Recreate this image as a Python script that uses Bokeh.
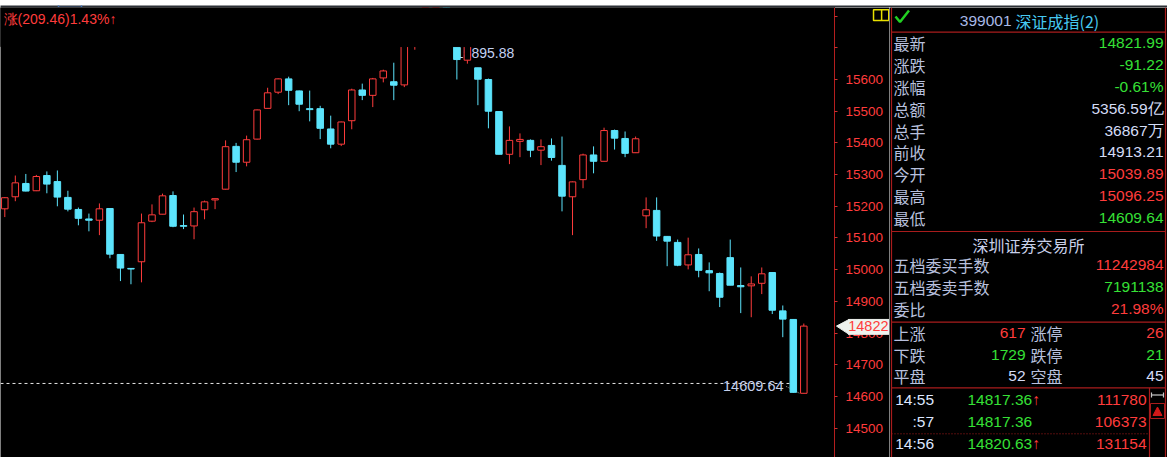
from bokeh.plotting import figure
from bokeh.layouts import column, row
from bokeh.models import Range1d, FixedTicker, ColumnDataSource
from bokeh.core.properties import value
from bokeh.embed import file_html
from bokeh.resources import INLINE

# ---------------- data ----------------
opens = [15192, 15230, 15272, 15249, 15297, 15278, 15228, 15190, 15160, 15156,
         15193, 15048, 15004, 15025, 15153, 15175, 15234, 15139, 15138, 15189,
         15220, 15254, 15389, 15339, 15412, 15509, 15560, 15602, 15564, 15508,
         15508, 15444, 15396, 15470, 15567, 15550, 15605, 15593, 15583, 15740,
         15790, 15850, 15870, 15760, 15661, 15637, 15600, 15499, 15364, 15405,
         15408, 15377, 15392, 15329, 15230, 15284, 15362, 15342, 15439, 15414,
         15369, 15170, 15187, 15105, 15086, 15015, 15048, 14997, 14988, 15038,
         14950, 14949, 14957, 14991, 14870, 14843, 14610]
highs = [15229, 15297, 15302, 15299, 15310, 15313, 15249, 15196, 15177, 15209,
         15194, 15048, 15004, 15177, 15206, 15240, 15247, 15174, 15196, 15218,
         15224, 15408, 15400, 15423, 15505, 15574, 15603, 15609, 15565, 15565,
         15517, 15486, 15467, 15571, 15587, 15605, 15631, 15653, 15745, 15800,
         15870, 15895.88, 15885, 15780, 15740, 15637, 15603, 15499, 15452, 15430,
         15411, 15411, 15414, 15420, 15278, 15366, 15389, 15448, 15442, 15436,
         15420, 15228, 15228, 15105, 15095, 15101, 15067, 15023, 14991, 15095,
         15007, 14979, 15007, 14992, 14887, 14843, 14830]
lows = [15166, 15216, 15247, 15248, 15241, 15200, 15184, 15140, 15121, 15109,
        15036, 14964, 14954, 14960, 15150, 15175, 15134, 15128, 15096, 15159,
        15191, 15253, 15308, 15326, 15411, 15509, 15554, 15519, 15500, 15468,
        15412, 15383, 15390, 15443, 15535, 15513, 15591, 15535, 15576, 15694,
        15770, 15820, 15760, 15600, 15650, 15519, 15446, 15364, 15333, 15355,
        15355, 15330, 15344, 15184, 15109, 15257, 15304, 15342, 15379, 15355,
        15368, 15131, 15091, 15011, 15011, 15001, 14976, 14932, 14882, 14951,
        14863, 14850, 14923, 14860, 14787, 14612, 14609.64]
closes = [15227, 15274, 15248, 15294, 15270, 15229, 15191, 15162, 15156, 15192,
          15049, 15005, 15002, 15148, 15173, 15233, 15137, 15137, 15183, 15214,
          15224, 15388, 15339, 15410, 15504, 15558, 15602, 15566, 15522, 15505,
          15446, 15396, 15466, 15567, 15550, 15602, 15627, 15582, 15730, 15790,
          15850, 15880, 15800, 15663, 15720, 15601, 15500, 15364, 15408, 15411,
          15377, 15388, 15354, 15232, 15277, 15362, 15342, 15439, 15415, 15367,
          15413, 15189, 15106, 15090, 15014, 15047, 14998, 14990, 14913, 14951,
          14946, 14955, 14987, 14872, 14844, 14613, 14821.99]

axis_ticks = [14500, 14600, 14700, 14800, 14900, 15000, 15100, 15200,
              15300, 15400, 15500, 15600, 15700, 15800]
title_text = "涨(209.46)1.43%↑"
period_high_text = "15895.88"
period_low_text = "14609.64"
low_line_level = 14641
last_price_tag = "14822"
last_price = 14822

info_labels = ["最新", "涨跌", "涨幅", "总额", "总手", "前收", "今开", "最高", "最低"]
info_values = ["14821.99", "-91.22", "-0.61%", "5356.59亿", "36867万",
               "14913.21", "15039.89", "15096.25", "14609.64"]
info_kind = ["dn", "dn", "dn", "flat", "flat", "flat", "up", "up", "dn"]

exchange_name = "深圳证券交易所"
book_labels = ["五档委买手数", "五档委卖手数", "委比"]
book_values = ["11242984", "7191138", "21.98%"]
book_kind = ["up", "dn", "up"]

breadth_labels = ["上涨", "下跌", "平盘"]
breadth_counts = ["617", "1729", "52"]
limit_labels = ["涨停", "跌停", "空盘"]
limit_counts = ["26", "21", "45"]
breadth_kind = ["up", "dn", "flat"]

tick_times = ["14:55", ":57", "14:56"]
tick_prices = ["14817.36", "14817.36", "14820.63"]
tick_arrows = ["↑", "", "↑"]
tick_vols = ["111780", "106373", "131154"]

code_text = "399001"
name_text = "深证成指(2)"

# ---------------- styles ----------------
RED = "#ff3c3c"
CYAN = "#5ce4fc"
GREEN = "#36e036"
FLAT = "#d4dcf6"
LABEL = "#b8c0de"
FRAME = "#a81c1c"
KCOL = {"up": RED, "dn": GREEN, "flat": FLAT}
NUMF = value("Liberation Sans")
CJKF = value("Noto Sans CJK SC")

# ---------------- top strip ----------------
t = figure(width=1167, height=7, x_range=Range1d(0, 1167), y_range=Range1d(7, 0),
           output_backend="svg", toolbar_location=None, min_border=0,
           x_axis_location=None, y_axis_location=None,
           background_fill_color="#2c3036", border_fill_color="#2c3036",
           outline_line_color=None)
t.grid.visible = False
t.quad(left=[0], right=[1167], top=[6], bottom=[7.2], color="#b41e1e")
t.quad(left=[58], right=[81], top=[-4], bottom=[2], fill_color=None,
       line_color="#3d70b8", line_width=1.5)

# ---------------- candle chart (frame includes the price-axis strip) ----------------
AX = 78.92   # axis position in bar-index units
p = figure(width=889, height=450, x_range=Range1d(-0.409, 84.15),
           y_range=Range1d(14407.4, 15827.2), y_axis_location="right",
           x_axis_location=None, output_backend="svg", toolbar_location=None,
           min_border=0, background_fill_color="black", border_fill_color="black",
           outline_line_color=None)
p.grid.visible = False
yax = p.yaxis[0]
yax.fixed_location = AX
yax.ticker = FixedTicker(ticks=axis_ticks)
yax.major_label_overrides = {15700: "", 15800: ""}
yax.axis_line_color = "#b41e1e"
yax.major_tick_line_color = "#d03030"
yax.major_tick_in = 0
yax.major_tick_out = 3
yax.minor_tick_line_color = None
yax.major_label_text_color = RED
yax.major_label_text_font = "Liberation Sans"
yax.major_label_text_font_size = "13.5px"
yax.major_label_standoff = 8

N = len(opens)
idx = list(range(N))
is_up = [c >= o for o, c in zip(opens, closes)]
src = ColumnDataSource(dict(
    x=idx, h=highs, l=lows,
    top=[max(o, c) for o, c in zip(opens, closes)],
    bot=[min(o, c) for o, c in zip(opens, closes)],
    col=[RED if u else CYAN for u in is_up],
    fill=["black" if u else CYAN for u in is_up],
))

# labels behind candles
p.text(x=[N - 34.1], y=[15685], text=[period_high_text], text_color="#c4d2f2",
       text_font=NUMF, text_font_size=value("14px"), text_baseline="middle",
       text_align="left")
p.line(x=[-0.41, 74.7], y=[low_line_level, low_line_level], line_color="#e6e6e6",
       line_width=1, line_dash="3 3")
p.line(x=[74.3, 75.6], y=[14632, 14610], line_color="#a0a0a0", line_width=1,
       line_dash="1 1")
p.text(x=[74.07], y=[14634], text=[period_low_text], text_color="#c4d0ec",
       text_font=NUMF, text_font_size=value("14.5px"), text_baseline="middle",
       text_align="right")

p.segment(x0="x", y0="h", x1="x", y1="l", line_color="col", line_width=1, source=src)
p.vbar(x="x", width=0.62, top="top", bottom="bot", fill_color="fill",
       line_color="col", line_width=1, source=src)

# masked header area of the chart
p.quad(left=[-0.41], right=[AX], bottom=[15704], top=[15830], color="black")
p.text(x=[-0.12], y=[15792], text=[title_text], text_color=RED,
       text_font=NUMF, text_font_size=value("14px"), text_baseline="middle",
       text_align="left")

# last price tag on the axis (drawn above the axis labels)
p.patch(x=[79.11, 80.3, 80.3], y=[last_price, 14843, 14796], color="#eef2ee",
        level="overlay")
p.quad(left=[80.25], right=[84.2], bottom=[14796], top=[14843], color="#eef2ee",
       level="overlay")
p.text(x=[84.06], y=[last_price], text=[last_price_tag], text_color=RED,
       text_font=NUMF, text_font_size=value("14.5px"), text_baseline="middle",
       text_align="right", level="overlay")

# small yellow box
p.quad(left=[82.63], right=[84.08], bottom=[15786], top=[15820], fill_color=None,
       line_color="#e8e000", line_width=1.5)
p.segment(x0=[83.4], y0=[15786], x1=[83.4], y1=[15820], line_color="#e8e000",
          line_width=1.5)

# ---------------- quote panel ----------------
q = figure(width=278, height=450, x_range=Range1d(889, 1167), y_range=Range1d(457, 7),
           output_backend="svg", toolbar_location=None, min_border=0,
           x_axis_location=None, y_axis_location=None,
           background_fill_color="black", border_fill_color="black",
           outline_line_color=None)
q.grid.visible = False

XL, XR = 891, 1165
q.segment(x0=[XL, XR, XL, XL, XL, XL, 1149], y0=[7, 7, 31.7, 231, 321.7, 387.3, 387.3],
          x1=[XL, XR, XR, XR, XR, XR, 1149], y1=[457, 457, 31.7, 231, 321.7, 387.3, 457],
          line_color=FRAME, line_width=1.2)
q.segment(x0=[XL], y0=[433.3], x1=[1149], y1=[433.3], line_color=FRAME,
          line_width=1, line_dash="1 2")

# header
q.line(x=[895, 899.5, 908.5], y=[16, 21.5, 10], line_color="#22d022", line_width=2.5)
q.text(x=[1011], y=[20], text=[code_text], text_color="#a8b8e6", text_font=NUMF,
       text_font_size=value("15.5px"), text_align="right", text_baseline="middle")
q.text(x=[1015], y=[20], text=[name_text], text_color="#46c8f0", text_font=CJKF,
       text_font_size=value("16px"), text_align="left", text_baseline="middle")

LX, VX = 893, 1163
iy = [42.6 + 21.85 * k for k in range(len(info_labels))]
q.text(x=[LX] * len(iy), y=iy, text=info_labels, text_color=LABEL, text_font=CJKF,
       text_font_size=value("16px"), text_align="left", text_baseline="middle")
q.text(x=[VX] * len(iy), y=iy, text=info_values, text_color=[KCOL[k] for k in info_kind],
       text_font=NUMF, text_font_size=value("15.5px"), text_align="right",
       text_baseline="middle")

q.text(x=[1028], y=[244], text=[exchange_name], text_color="#c8d0e8", text_font=CJKF,
       text_font_size=value("16px"), text_align="center", text_baseline="middle")
by = [264.3, 286.5, 308.4]
q.text(x=[LX] * 3, y=by, text=book_labels, text_color=LABEL, text_font=CJKF,
       text_font_size=value("16px"), text_align="left", text_baseline="middle")
q.text(x=[VX] * 3, y=by, text=book_values, text_color=[KCOL[k] for k in book_kind],
       text_font=NUMF, text_font_size=value("15.5px"), text_align="right",
       text_baseline="middle")

ry = [332.3, 354.2, 375.8]
q.text(x=[LX] * 3, y=ry, text=breadth_labels, text_color=LABEL, text_font=CJKF,
       text_font_size=value("16px"), text_align="left", text_baseline="middle")
q.text(x=[1025] * 3, y=ry, text=breadth_counts, text_color=[KCOL[k] for k in breadth_kind],
       text_font=NUMF, text_font_size=value("15.5px"), text_align="right",
       text_baseline="middle")
q.text(x=[1030] * 3, y=ry, text=limit_labels, text_color=LABEL, text_font=CJKF,
       text_font_size=value("16px"), text_align="left", text_baseline="middle")
q.text(x=[VX] * 3, y=ry, text=limit_counts, text_color=[KCOL[k] for k in breadth_kind],
       text_font=NUMF, text_font_size=value("15.5px"), text_align="right",
       text_baseline="middle")

ty = [399, 421, 443.3]
q.text(x=[933.5] * 3, y=ty, text=tick_times, text_color="#dce6ff", text_font=NUMF,
       text_font_size=value("15.5px"), text_align="right", text_baseline="middle")
q.text(x=[967] * 3, y=ty, text=tick_prices, text_color=GREEN, text_font=NUMF,
       text_font_size=value("15.5px"), text_align="left", text_baseline="middle")
q.text(x=[1032] * 3, y=ty, text=tick_arrows, text_color=RED, text_font=NUMF,
       text_font_size=value("15.5px"), text_align="left", text_baseline="middle")
q.text(x=[1146] * 3, y=ty, text=tick_vols, text_color=RED, text_font=NUMF,
       text_font_size=value("15.5px"), text_align="right", text_baseline="middle")

# scroll column widgets
q.segment(x0=[1151, 1151, 1163], y0=[394.5, 392, 392], x1=[1163, 1151, 1163],
          y1=[394.5, 397, 397], line_color="#c8c8c8", line_width=1.2)
q.quad(left=[1150], right=[1164], top=[403], bottom=[418], fill_color=None,
       line_color=FRAME, line_width=1)
q.patch(x=[1152.5, 1157, 1161.5], y=[415, 406.5, 415], color="#d01818")

layout = column(t, row(p, q, spacing=0), spacing=0)
open("out.html", "w").write(file_html(layout, INLINE))
